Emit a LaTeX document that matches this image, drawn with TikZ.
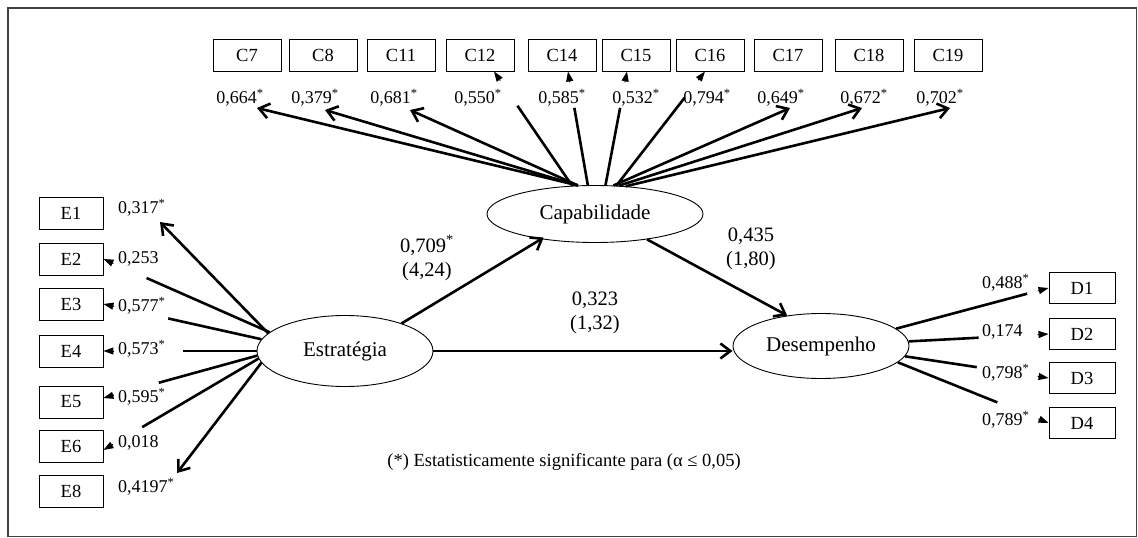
\documentclass[tikz,border=0pt]{standalone}
\usepackage{fontspec}
\setmainfont{Liberation Serif}
\usetikzlibrary{shapes.geometric,arrows.meta,calc}
\newcommand\gapped[3]{%
  \draw[ind] (#1) -- ($(#1)!#3!(#2)$);
  \draw[small] ($(#2)!11pt!(#1)$) -- (#2);}
\begin{document}
\begin{tikzpicture}[x=1pt,y=-1pt,
  box/.style={draw,line width=0.9pt,minimum width=68pt,minimum height=32pt,inner sep=0pt,font=\fontsize{18.5}{20}\selectfont},
  ebox/.style={box,minimum width=64pt},
  dbox/.style={box,minimum width=66pt,minimum height=31pt},
  lat/.style={draw,ellipse,line width=0.9pt,inner sep=0pt,font=\fontsize{21}{24}\selectfont},
  lbl/.style={inner sep=0pt,font=\fontsize{18}{20}\selectfont},
  coef/.style={align=center,inner sep=0pt,font=\fontsize{20.5}{24}\selectfont},
  ind/.style={line width=2.6pt},
  big/.style={line width=2.6pt,-{Straight Barb[length=10pt,width=15pt]}},
  small/.style={line width=1pt,-{Triangle[length=10pt,width=7pt]}},
]
\useasboundingbox (0,0) rectangle (1138,538);
\draw[line width=1.2pt,black!75] (8,8) rectangle (1136.5,536.5);

% latent variables
\node[lat,minimum width=216pt,minimum height=57pt] (cap) at (595,214) {Capabilidade};
\node[lat,minimum width=176pt,minimum height=71pt] (est) at (345,351) {Estratégia};
\node[lat,minimum width=176pt,minimum height=65pt] (des) at (821,346) {Desempenho};

% C indicators
\foreach \n/\x in {C7/247,C8/323,C11/401,C12/480,C14/562,C15/636,C16/710,C17/788,C18/869,C19/948}
  \node[box] (\n) at (\x,55) {\n};
\node[lbl] (l7)  at (240,98) {0,664\textsuperscript{*}};
\node[lbl] (l8)  at (315,98) {0,379\textsuperscript{*}};
\node[lbl] (l11) at (394,98) {0,681\textsuperscript{*}};
\node[lbl] (l12) at (478,98) {0,550\textsuperscript{*}};
\node[lbl] (l14) at (562,98) {0,585\textsuperscript{*}};
\node[lbl] (l15) at (636,98) {0,532\textsuperscript{*}};
\node[lbl] (l16) at (707,98) {0,794\textsuperscript{*}};
\node[lbl] (l17) at (781,98) {0,649\textsuperscript{*}};
\node[lbl] (l18) at (864,98) {0,672\textsuperscript{*}};
\node[lbl] (l19) at (940,98) {0,702\textsuperscript{*}};

% E indicators
\node[ebox] (E1) at (71,213) {E1};
\node[ebox] (E2) at (71,259) {E2};
\node[ebox] (E3) at (71,304) {E3};
\node[ebox] (E4) at (71,351) {E4};
\node[ebox] (E5) at (71,402) {E5};
\node[ebox] (E6) at (71,446) {E6};
\node[ebox] (E8) at (71,491) {E8};
\node[lbl,anchor=west] (le1) at (118,208) {0,317\textsuperscript{*}};
\node[lbl,anchor=west] (le2) at (118,259) {0,253};
\node[lbl,anchor=west] (le3) at (118,306) {0,577\textsuperscript{*}};
\node[lbl,anchor=west] (le4) at (118,349) {0,573\textsuperscript{*}};
\node[lbl,anchor=west] (le5) at (118,397) {0,595\textsuperscript{*}};
\node[lbl,anchor=west] (le6) at (118,443) {0,018};
\node[lbl,anchor=west] (le8) at (118,487) {0,4197\textsuperscript{*}};

% D indicators
\node[dbox] (D1) at (1082,288) {D1};
\node[dbox] (D2) at (1082,334) {D2};
\node[dbox] (D3) at (1082,378) {D3};
\node[dbox] (D4) at (1082,423) {D4};
\node[lbl,anchor=west] (ld1) at (982,283) {0,488\textsuperscript{*}};
\node[lbl,anchor=west] (ld2) at (982,332) {0,174};
\node[lbl,anchor=west] (ld3) at (982,373) {0,798\textsuperscript{*}};
\node[lbl,anchor=west] (ld4) at (982,420) {0,789\textsuperscript{*}};

% path coefficients
\node[coef] (p1) at (427,258) {0,709\textsuperscript{*}\\(4,24)};
\node[coef] (p2) at (751,249) {0,435\\(1,80)};
\node[coef] (p3) at (595,313) {0,323\\(1,32)};
\node[lbl,font=\fontsize{18.5}{20}\selectfont] (note) at (564,462) {(*) Estatisticamente significante para (α ≤ 0,05)};

% C connectors
\coordinate (t7)  at (257,108);
\coordinate (t8)  at (325,110);
\coordinate (t11) at (410,110);
\coordinate (t17) at (790,108);
\coordinate (t18) at (862,108);
\coordinate (t19) at (950,108);
\draw[big] (cap.121) -- (t7);
\draw[big] (cap.121) -- (t8);
\draw[big] (cap.121) -- (t11);
\draw[big] (cap.57) -- (t17);
\draw[big] (cap.50) -- (t18);
\draw[big] (cap.42) -- (t19);
\coordinate (c12e) at ($(C12.south)+(14,0)$);
\coordinate (c14e) at ($(C14.south)+(6,0)$);
\coordinate (c15e) at ($(C15.south)+(-9,0)$);
\coordinate (c16e) at ($(C16.south)+(-5,0)$);
\gapped{cap.129}{c12e}{0.70}
\gapped{cap.104}{c14e}{0.68}
\gapped{cap.70}{c15e}{0.68}
\gapped{cap.53}{c16e}{0.77}

% E connectors
\coordinate (te1) at (160,222);
\coordinate (te8) at (177,473);
\coordinate (e5e) at ($(E5.east)+(0,-4)$);
\coordinate (e6e) at ($(E6.east)+(0,4)$);
\draw[big] (est.167) -- (te1);
\draw[big] (est.188) -- (te8);
\gapped{est.166}{E2.east}{0.74}
\gapped{est.172}{E3.east}{0.59}
\gapped{est.west}{E4.east}{0.48}
\gapped{est.183}{e5e}{0.64}
\gapped{est.185}{e6e}{0.75}

% D connectors
\gapped{des.13}{D1.west}{0.86}
\gapped{des.3}{D2.west}{0.5}
\gapped{des.-7}{D3.west}{0.5}
\gapped{des.-12}{D4.west}{0.66}

% structural paths
\draw[big,shorten >=-3pt] (est.26) -- (cap.205);
\draw[big] (cap.-26) -- (des.138);
\draw[big] (est.east) -- (est.east -| des.west);
\end{tikzpicture}
\end{document}
